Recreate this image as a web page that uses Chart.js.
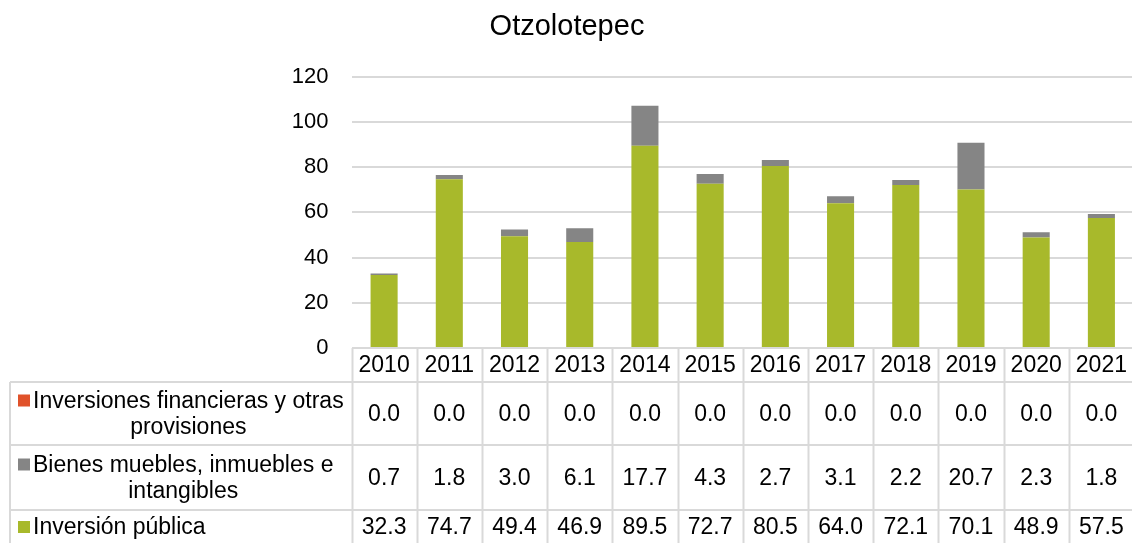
<!DOCTYPE html>
<html>
<head>
<meta charset="utf-8">
<script src="https://cdn.jsdelivr.net/npm/chart.js@4.4.0/dist/chart.umd.min.js"></script>
<style>
  html, body { margin: 0; padding: 0; background: #fff; overflow: hidden; }
  #wrap { position: relative; width: 1135px; height: 543px; }
</style>
</head>
<body>
<div id="wrap"><canvas id="chart"></canvas></div>
<script>
  // datos
  var years = ['2010', '2011', '2012', '2013', '2014', '2015', '2016', '2017', '2018', '2019', '2020', '2021'];
  var inversionPublica = [32.3, 74.7, 49.4, 46.9, 89.5, 72.7, 80.5, 64.0, 72.1, 70.1, 48.9, 57.5];
  var bienesMuebles = [0.7, 1.8, 3.0, 6.1, 17.7, 4.3, 2.7, 3.1, 2.2, 20.7, 2.3, 1.8];
  var inversionesFinancieras = [0, 0, 0, 0, 0, 0, 0, 0, 0, 0, 0, 0];
  var yTicks = [0, 20, 40, 60, 80, 100, 120];

  var FONT = '"Liberation Sans", Arial, sans-serif';
  var GRID = '#d9d9d9';

  // filas de la tabla, en el orden en que aparecen (arriba -> abajo)
  var tableRows = [
    { lines: ['Inversiones financieras y otras', 'provisiones'], color: '#e0522a', data: inversionesFinancieras, top: 382, bottom: 445 },
    { lines: ['Bienes muebles, inmuebles e', 'intangibles'], color: '#858585', data: bienesMuebles, top: 445, bottom: 510 },
    { lines: ['Inversión pública'], color: '#a8b92b', data: inversionPublica, top: 510, bottom: 576 }
  ];

  var dataTable = {
    id: 'dataTable',
    afterDraw: function (chart) {
      var ctx = chart.ctx;
      var area = chart.chartArea;
      var colW = area.width / years.length;
      var tableLeft = 10;
      var yearTop = area.bottom, yearBottom = 382;
      ctx.save();
      ctx.strokeStyle = GRID;
      ctx.lineWidth = 2;
      ctx.beginPath();
      // columnas
      for (var i = 0; i <= years.length; i++) {
        var x = Math.round(area.left + colW * i) + 0.5;
        ctx.moveTo(x, yearTop);
        ctx.lineTo(x, 543);
      }
      ctx.moveTo(tableLeft, yearBottom); ctx.lineTo(tableLeft, 543);
      ctx.moveTo(tableLeft, yearBottom); ctx.lineTo(chart.width, yearBottom);
      tableRows.forEach(function (r) {
        ctx.moveTo(tableLeft, r.bottom); ctx.lineTo(chart.width, r.bottom);
      });
      ctx.stroke();

      ctx.fillStyle = '#000';
      ctx.font = '23px ' + FONT;
      ctx.textAlign = 'center';
      ctx.textBaseline = 'middle';
      years.forEach(function (yr, i) {
        ctx.fillText(yr, chart.scales.x.getPixelForValue(i), (yearTop + yearBottom) / 2 + 1);
      });
      tableRows.forEach(function (r, k) {
        var mid = k === 2 ? 528 : (r.top + r.bottom) / 2 + 1;
        r.data.forEach(function (v, i) {
          ctx.fillText(v.toFixed(1), chart.scales.x.getPixelForValue(i), mid);
        });
        // etiqueta de la serie
        var w0 = ctx.measureText(r.lines[0]).width;
        var cx = 33 + w0 / 2;
        var lh = 26;
        var y0 = k === 2 ? 528 : mid - lh / 2;
        ctx.fillStyle = r.color;
        ctx.fillRect(18, y0 - 7, 12, 12);
        ctx.fillStyle = '#000';
        r.lines.forEach(function (ln, j) {
          ctx.fillText(ln, cx, y0 + j * lh);
        });
      });
      ctx.restore();
    }
  };

  new Chart(document.getElementById('chart'), {
    type: 'bar',
    data: {
      labels: years,
      datasets: [
        { label: 'Inversión pública', data: inversionPublica, backgroundColor: '#a8b92b' },
        { label: 'Bienes muebles, inmuebles e intangibles', data: bienesMuebles, backgroundColor: '#858585' },
        { label: 'Inversiones financieras y otras provisiones', data: inversionesFinancieras, backgroundColor: '#e0522a' }
      ]
    },
    options: {
      responsive: true,
      maintainAspectRatio: false,
      animation: false,
      layout: { padding: { left: 0, right: 1, top: 0, bottom: 543 - 348 } },
      datasets: { bar: { barPercentage: 0.415, categoryPercentage: 1 } },
      plugins: {
        legend: { display: false },
        tooltip: { enabled: false },
        title: {
          display: true,
          text: 'Otzolotepec',
          color: '#000',
          font: { family: FONT, size: 29, weight: 'normal' },
          padding: { top: 10, bottom: 32 }
        }
      },
      scales: {
        x: { display: false, stacked: true },
        y: {
          stacked: true,
          min: 0,
          max: 120,
          afterFit: function (s) { s.width = 351.5; },
          afterBuildTicks: function (s) { s.ticks = yTicks.map(function (v) { return { value: v }; }); },
          border: { display: false },
          grid: { color: GRID, lineWidth: 2, drawTicks: false },
          ticks: { color: '#000', padding: 23, font: { family: FONT, size: 22 } }
        }
      }
    },
    plugins: [dataTable]
  });
</script>
</body>
</html>
